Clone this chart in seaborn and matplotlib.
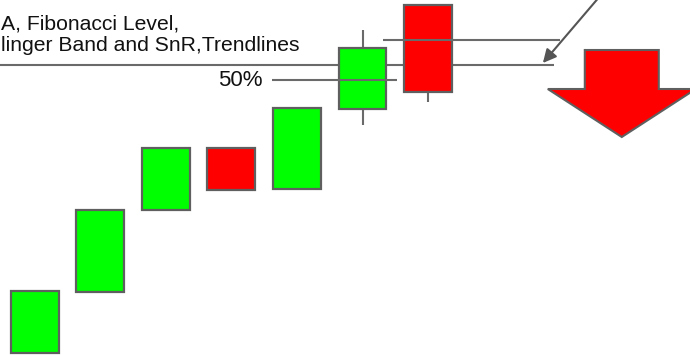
import matplotlib
matplotlib.use("Agg")
import matplotlib.pyplot as plt
import seaborn as sns
import numpy as np

# ---- data (price units, index units) ----
candle_idx = [0, 1, 2, 3, 4, 5, 6]
candle_open = [47, 108, 190, 252, 211, 291, 395]
candle_close = [109, 190, 252, 210, 292, 352, 308]
candle_high = [109, 190, 252, 252, 292, 370, 395]
candle_low = [47, 108, 190, 210, 211, 275, 298]

level_price = [360, 335, 320]          # SnR / Fibonacci levels
level_start = [5.31, -0.53, 3.62]
level_end = [8.01, 7.92, 5.52]
level_on_top = [True, False, True]

fib_label = "50%"
note_text = "A, Fibonacci Level,\nlinger Band and SnR,Trendlines"

signal_x = 8.953
signal_shaft_top = 350
signal_head_top = 311
signal_tip = 263
signal_shaft_half = 0.564
signal_head_half = 1.128

# ---- style ----
sns.set_theme(style="white")
plt.rcParams["font.family"] = ["Liberation Sans", "DejaVu Sans"]

GREEN = "#00ff00"
RED = "#ff0000"
EDGE = "#5f5f5f"
LINE = "#6a6a6a"

fig = plt.figure(figsize=(6.9, 3.55), dpi=100)
ax = fig.add_axes([0, 0, 1, 1])
ax.set_xlim(-0.527, 9.993)
ax.set_ylim(45, 400)
ax.axis("off")

# levels
for p, s, e, top in zip(level_price, level_start, level_end, level_on_top):
    ax.plot([s, e], [p, p], color=LINE, lw=1.5, zorder=5 if top else 1,
            solid_capstyle="butt")

# wicks
for i, hi, lo in zip(candle_idx, candle_high, candle_low):
    ax.plot([i, i], [lo, hi], color=LINE, lw=1.5, zorder=2, solid_capstyle="butt")

# bodies
bottoms = np.minimum(candle_open, candle_close)
heights = np.abs(np.array(candle_close) - np.array(candle_open))
colors = [GREEN if c > o else RED for o, c in zip(candle_open, candle_close)]
ax.bar(candle_idx, heights, bottom=bottoms, width=0.73, color=colors,
       edgecolor=EDGE, linewidth=1.6, zorder=3)

# fib label
ax.text(3.47, 319.5, fib_label, ha="right", va="center", fontsize=16,
        color="#111111", zorder=6)

# note text
ax.text(-0.515, 385.5, note_text, ha="left", va="top", fontsize=15.2,
        color="#111111", linespacing=1.15, zorder=6)

# annotation arrow
ax.annotate("", xy=(7.75, 337), xytext=(8.83, 420),
            arrowprops=dict(arrowstyle="-|>", color="#555555", lw=1.5,
                            mutation_scale=20, shrinkA=0, shrinkB=0),
            zorder=6, annotation_clip=False)

# big red signal arrow
px = [signal_x - signal_shaft_half, signal_x + signal_shaft_half,
      signal_x + signal_shaft_half, signal_x + signal_head_half,
      signal_x, signal_x - signal_head_half, signal_x - signal_shaft_half]
py = [signal_shaft_top, signal_shaft_top, signal_head_top, signal_head_top,
      signal_tip, signal_head_top, signal_head_top]
ax.fill(px, py, facecolor=RED, edgecolor=EDGE, linewidth=1.5, zorder=4,
        joinstyle="miter")

fig.savefig("out.png", dpi=100)
